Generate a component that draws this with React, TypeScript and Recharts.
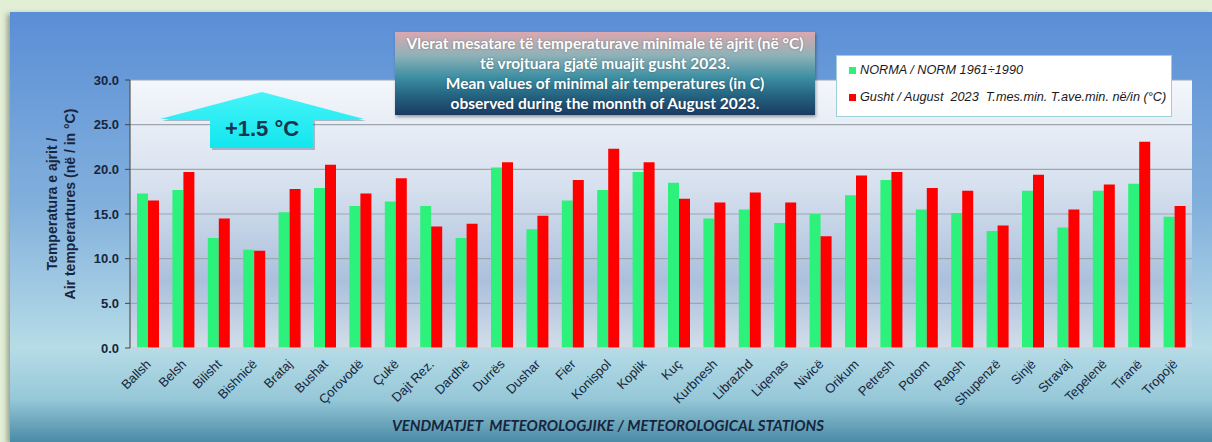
import React from 'react';
import { BarChart, Bar, XAxis, YAxis, CartesianGrid } from 'recharts';

// Stations (meteorological stations), August 2023
const stations = [
  'Ballsh', 'Belsh', 'Bilisht', 'Bishnicë', 'Brataj', 'Bushat', 'Çorovodë', 'Çukë',
  'Dajt Rez.', 'Dardhë', 'Durrës', 'Dushar', 'Fier', 'Konispol', 'Koplik', 'Kuç',
  'Kurbnesh', 'Librazhd', 'Liqenas', 'Nivicë', 'Orikum', 'Petresh', 'Potom', 'Rapsh',
  'Shupenzë', 'Sinjë', 'Stravaj', 'Tepelenë', 'Tiranë', 'Tropojë',
];

// NORMA / NORM 1961÷1990
const norm = [
  17.3, 17.7, 12.3, 11.0, 15.2, 17.9, 15.9, 16.4, 15.9, 12.3, 20.2, 13.3, 16.5, 17.7, 19.7,
  18.5, 14.5, 15.5, 14.0, 15.0, 17.1, 18.8, 15.5, 15.1, 13.1, 17.6, 13.5, 17.6, 18.4, 14.7,
];

// Gusht / August 2023
const aug2023 = [
  16.5, 19.7, 14.5, 10.9, 17.8, 20.5, 17.3, 19.0, 13.6, 13.9, 20.8, 14.8, 18.8, 22.3, 20.8,
  16.7, 16.3, 17.4, 16.3, 12.5, 19.3, 19.7, 17.9, 17.6, 13.7, 19.4, 15.5, 18.3, 23.1, 15.9,
];

const yTicks = [0, 5, 10, 15, 20, 25, 30];

const data = stations.map((name, i) => ({ name, norm: norm[i], aug: aug2023[i] }));

const GREEN = '#2cf27c';
const RED = '#ff0000';
const NAVY = '#17253d';

const StationTick = ({ x, y, payload }: any) => (
  <text
    x={x + 4}
    y={y + 9}
    transform={`rotate(-45, ${x + 4}, ${y + 9})`}
    textAnchor="end"
    fontFamily="'Liberation Sans', Arial, sans-serif"
    fontSize={13}
    fill={NAVY}
  >
    {payload.value}
  </text>
);

export default function App() {
  return (
    <div
      style={{
        position: 'fixed',
        left: 0,
        top: 0,
        width: 1212,
        height: 442,
        background: '#e2eed6',
        overflow: 'hidden',
        fontFamily: "'Liberation Sans', Arial, sans-serif",
      }}
    >
      {/* blue panel */}
      <div
        style={{
          position: 'absolute',
          left: 10,
          top: 12,
          width: 1202,
          height: 430,
          background:
            'linear-gradient(to bottom, #5a8ed6 0%, #82b0dc 45%, #b6dce7 78%, #96c8d8 90%, #4a8ba6 100%)',
          boxShadow: '-3px 2px 5px rgba(60,70,50,0.45)',
        }}
      />

      <div style={{ position: 'absolute', left: 0, top: 0 }}>
        <BarChart
          width={1212}
          height={442}
          data={data}
          margin={{ top: 80, right: 20, left: 70, bottom: 24 }}
          barGap={0}
          barSize={11}
        >
          <defs>
            <linearGradient id="plotBg" x1="0" y1="0" x2="0" y2="1">
              <stop offset="0%" stopColor="#f4f7fb" />
              <stop offset="40%" stopColor="#d6e0ee" />
              <stop offset="75%" stopColor="#abc0dc" />
              <stop offset="100%" stopColor="#d2dde9" />
            </linearGradient>
          </defs>
          <CartesianGrid
            vertical={false}
            stroke="#9ea6b0"
            strokeWidth={1.2}
            fill="url(#plotBg)"
            fillOpacity={1}
          />
          <XAxis
            dataKey="name"
            interval={0}
            height={70}
            tick={<StationTick />}
            tickLine={false}
            axisLine={{ stroke: '#dde8ee' }}
          />
          <YAxis
            domain={[0, 30]}
            ticks={yTicks}
            width={60}
            tickFormatter={(v: number) => v.toFixed(1)}
            tick={{ fill: NAVY, fontSize: 13, fontWeight: 'bold', fontFamily: "'Liberation Sans', Arial, sans-serif", dx: -4 }}
            tickSize={5}
            tickLine={{ stroke: '#444' }}
            axisLine={{ stroke: '#555', strokeWidth: 1.2 }}
          />
          <Bar dataKey="norm" fill={GREEN} isAnimationActive={false} />
          <Bar dataKey="aug" fill={RED} isAnimationActive={false} />
        </BarChart>
      </div>

      {/* y-axis title */}
      <div
        style={{
          position: 'absolute',
          left: 61,
          top: 204,
          transform: 'translate(-50%, -50%) rotate(-90deg)',
          whiteSpace: 'nowrap',
          textAlign: 'center',
          fontWeight: 'bold',
          fontSize: 14,
          lineHeight: '18px',
          color: NAVY,
        }}
      >
        Temperatura e ajrit /
        <br />
        Air temperartures (në / in °C)
      </div>

      {/* x-axis title */}
      <div
        style={{
          position: 'absolute',
          left: 0,
          width: 1216,
          top: 416,
          textAlign: 'center',
          fontFamily: "Lato, 'Open Sans', sans-serif",
          fontWeight: 'bold',
          fontStyle: 'italic',
          fontSize: 15,
          color: NAVY,
          whiteSpace: 'pre',
        }}
      >
        {'VENDMATJET  METEOROLOGJIKE / METEOROLOGICAL STATIONS'}
      </div>

      {/* title box */}
      <div
        style={{
          position: 'absolute',
          left: 395,
          top: 32,
          width: 420,
          height: 83,
          background:
            'linear-gradient(to bottom, #dba7b0 0%, #8fb2b8 28%, #3c8ea2 55%, #23617f 78%, #1a3a62 100%)',
          boxShadow: '1px 2px 3px rgba(0,0,0,0.35)',
          color: '#ffffff',
          fontFamily: "Lato, 'Open Sans', sans-serif",
          fontWeight: 'bold',
          fontSize: 15.5,
          lineHeight: '20px',
          textAlign: 'center',
          paddingTop: 1,
          boxSizing: 'border-box',
          whiteSpace: 'nowrap',
          textShadow: '0 0 2px rgba(0,0,0,0.35)',
        }}
      >
        Vlerat mesatare të temperaturave minimale të ajrit (në °C)
        <br />
        të vrojtuara gjatë muajit gusht 2023.
        <br />
        Mean values of minimal air temperatures (in C)
        <br />
        observed during the monnth of August 2023.
      </div>

      {/* legend */}
      <div
        style={{
          position: 'absolute',
          left: 836,
          top: 55,
          width: 336,
          height: 62,
          background: '#ffffff',
          border: '1px solid #9fd0d8',
          boxSizing: 'border-box',
          fontStyle: 'italic',
          fontSize: 12.7,
          color: '#1a1a1a',
        }}
      >
        <div style={{ position: 'absolute', left: 12, top: 7, display: 'flex', alignItems: 'center', whiteSpace: 'pre' }}>
          <span style={{ width: 7, height: 7, background: GREEN, marginRight: 4, display: 'inline-block' }} />
          NORMA / NORM 1961÷1990
        </div>
        <div style={{ position: 'absolute', left: 12, top: 34, display: 'flex', alignItems: 'center', whiteSpace: 'pre' }}>
          <span style={{ width: 7, height: 7, background: RED, marginRight: 4, display: 'inline-block' }} />
          {'Gusht / August  2023  T.mes.min. T.ave.min. në/in (°C)'}
        </div>
      </div>

      {/* +1.5 °C arrow */}
      <svg
        width={1212}
        height={442}
        style={{ position: 'absolute', left: 0, top: 0, pointerEvents: 'none' }}
      >
        <defs>
          <linearGradient id="arrowFill" x1="0" y1="0" x2="0" y2="1">
            <stop offset="0%" stopColor="#45f4f8" />
            <stop offset="100%" stopColor="#12e6ee" />
          </linearGradient>
        </defs>
        <polygon
          points="162,121 264,94 366,121 315,121 315,150 212,150 212,121"
          fill="rgba(60,80,110,0.35)"
        />
        <polygon
          points="160,119 262,92 364,119 313,119 313,148 210,148 210,119"
          fill="url(#arrowFill)"
        />
        <text
          x={262}
          y={136}
          textAnchor="middle"
          fontFamily="'Liberation Sans', Arial, sans-serif"
          fontWeight="bold"
          fontSize={22}
          fill="#1a3550"
        >
          +1.5 °C
        </text>
      </svg>
    </div>
  );
}
